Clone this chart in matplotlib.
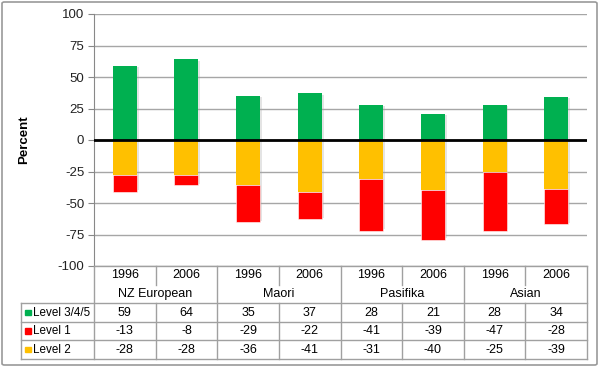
import matplotlib.pyplot as plt
from matplotlib.patches import FancyBboxPatch, Rectangle
import numpy as np

groups = ['NZ European', 'Maori', 'Pasifika', 'Asian']
years = ['1996', '2006', '1996', '2006', '1996', '2006', '1996', '2006']
level345 = [59, 64, 35, 37, 28, 21, 28, 34]
level1 = [-13, -8, -29, -22, -41, -39, -47, -28]
level2 = [-28, -28, -36, -41, -31, -40, -25, -39]

series_names = ['Level 3/4/5', 'Level 1', 'Level 2']
series_vals = [level345, level1, level2]
GREEN, RED, ORANGE = '#00B050', '#FF0000', '#FFC000'
series_colors = [GREEN, RED, ORANGE]

plt.rcParams['font.family'] = ['Liberation Sans', 'DejaVu Sans']
plt.rcParams['axes.unicode_minus'] = False
W, H = 600, 367
fig = plt.figure(figsize=(6.0, 3.67), dpi=100)

# outer chart frame
fig.patches.append(FancyBboxPatch((2 / W, 2 / H), 595 / W, 363 / H,
                                  boxstyle='round,pad=0,rounding_size=0.004',
                                  transform=fig.transFigure, fill=False,
                                  edgecolor='#9a9a9a', linewidth=1.2))

left, right = 94 / W, 587 / W
top, bottom = 1 - 14 / H, 1 - 266 / H
ax = fig.add_axes([left, bottom, right - left, top - bottom])
x = np.arange(len(years)) + 0.5
bw = 0.39

# soft shadows behind the bars
sh = dict(width=bw, color='#e4e4e4', zorder=1)
ax.bar(x + 0.03, level345, bottom=-1, **sh)
ax.bar(x + 0.03, np.array(level2) + np.array(level1), bottom=1, **sh)

ax.bar(x, level345, width=bw, color=GREEN, zorder=3)
ax.bar(x, level2, width=bw, color=ORANGE, zorder=3)
ax.bar(x, level1, bottom=level2, width=bw, color=RED, zorder=3,
       edgecolor='white', linewidth=0.4)

ax.set_xlim(0, 8)
ax.set_ylim(-100, 100)
ax.set_yticks(np.arange(-100, 101, 25))
ax.set_xticks([])
ax.grid(axis='y', color='#a6a6a6', linewidth=1.0, zorder=0)
ax.axhline(0, color='black', linewidth=2, zorder=4)
for s in ['top', 'right', 'bottom']:
    ax.spines[s].set_visible(False)
ax.spines['left'].set_color('#888888')
ax.tick_params(axis='y', length=4, color='#888888', labelsize=9.5,
               labelcolor='#222222', pad=3)
fig.text(24 / W, 1 - 140 / H, 'Percent', rotation=90, ha='center',
         va='center', fontsize=9.5, fontweight='bold')

# data table below the plot
tab_bottom = 1 - 359 / H
tax = fig.add_axes([left, tab_bottom, right - left, bottom - tab_bottom])
tax.set_xlim(0, 8)
tax.set_ylim(5, 0)
tax.axis('off')
lc = dict(color='#a0a0a0', linewidth=1.0, clip_on=False)
xl = -(94 - 21) / 61.6

# horizontal lines
for yv in [2, 3, 4, 5]:
    tax.plot([xl, 8], [yv, yv], **lc)
tax.plot([0, 8], [0, 0], **lc)
# vertical lines
for xv in [0, 2, 4, 6, 8]:
    tax.plot([xv, xv], [0, 5], **lc)
for xv in [1, 3, 5, 7]:
    tax.plot([xv, xv], [0, 1], **lc)
    tax.plot([xv, xv], [2, 5], **lc)
tax.plot([xl, xl], [2, 5], **lc)

fs = 9.0
for i, yr in enumerate(years):
    tax.text(i + 0.5, 0.5, yr, ha='center', va='center', fontsize=fs)
for g, name in enumerate(groups):
    tax.text(2 * g + 1, 1.5, name, ha='center', va='center', fontsize=fs)
for r, (name, vals, col) in enumerate(zip(series_names, series_vals,
                                          series_colors)):
    yr = 2.5 + r
    tax.add_patch(Rectangle((xl + 0.07, yr - 0.15), 0.09, 0.3,
                            color=col, clip_on=False))
    tax.text(xl + 0.2, yr, name, ha='left', va='center', fontsize=8.4)
    for i, v in enumerate(vals):
        tax.text(i + 0.5, yr, str(v), ha='center', va='center', fontsize=fs)

fig.savefig('out.png', dpi=100)
